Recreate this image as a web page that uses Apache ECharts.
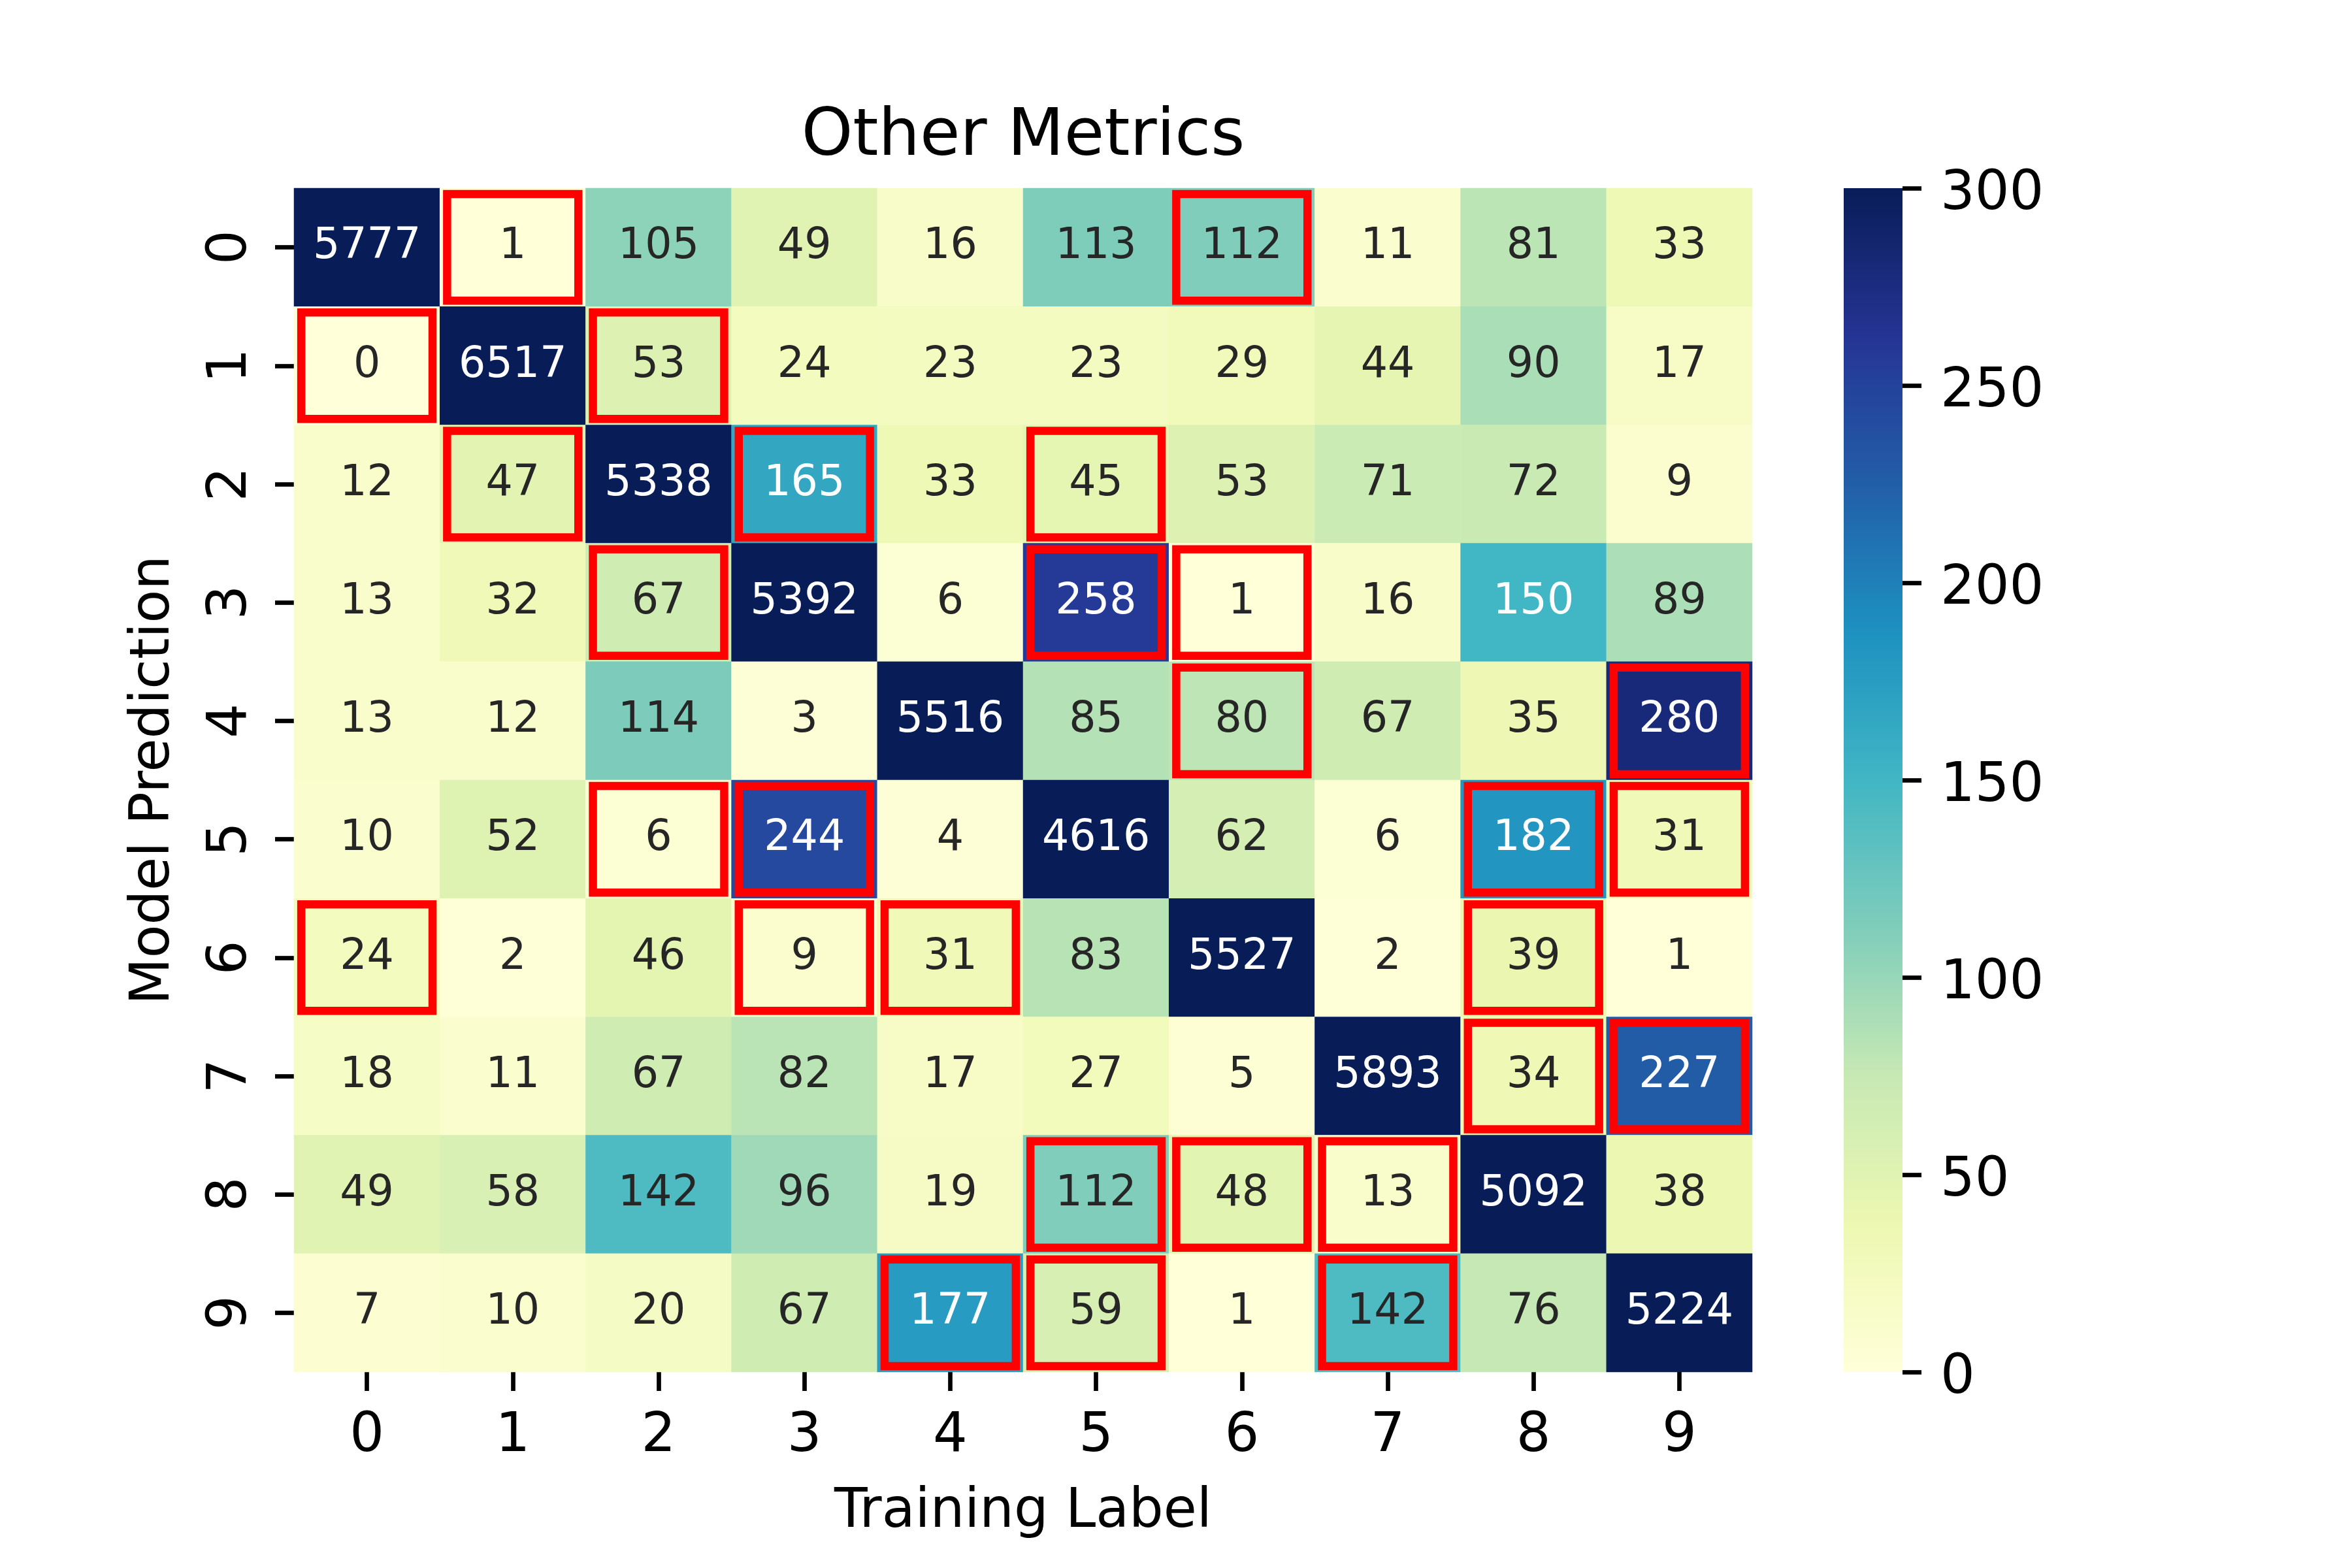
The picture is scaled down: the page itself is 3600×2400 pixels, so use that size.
<!DOCTYPE html>
<html>
<head>
<meta charset="utf-8">
<script src="https://cdn.jsdelivr.net/npm/echarts@6/dist/echarts.min.js"></script>
<style>
  html, body { margin: 0; padding: 0; background: #fff; }
  #chart { width: 3600px; height: 2400px; }
</style>
</head>
<body>
<div id="chart"></div>
<script>
// tick labels on both axes
const labels = ['0', '1', '2', '3', '4', '5', '6', '7', '8', '9'];

// one row per model prediction, columns are training labels
const pred0 = [5777, 1, 105, 49, 16, 113, 112, 11, 81, 33];
const pred1 = [0, 6517, 53, 24, 23, 23, 29, 44, 90, 17];
const pred2 = [12, 47, 5338, 165, 33, 45, 53, 71, 72, 9];
const pred3 = [13, 32, 67, 5392, 6, 258, 1, 16, 150, 89];
const pred4 = [13, 12, 114, 3, 5516, 85, 80, 67, 35, 280];
const pred5 = [10, 52, 6, 244, 4, 4616, 62, 6, 182, 31];
const pred6 = [24, 2, 46, 9, 31, 83, 5527, 2, 39, 1];
const pred7 = [18, 11, 67, 82, 17, 27, 5, 5893, 34, 227];
const pred8 = [49, 58, 142, 96, 19, 112, 48, 13, 5092, 38];
const pred9 = [7, 10, 20, 67, 177, 59, 1, 142, 76, 5224];
const rows = [pred0, pred1, pred2, pred3, pred4, pred5, pred6, pred7, pred8, pred9];

// cells outlined in red, as [row, col]
const boxed = [
  [0, 1], [0, 6],
  [1, 0], [1, 2],
  [2, 1], [2, 3], [2, 5],
  [3, 2], [3, 5], [3, 6],
  [4, 6], [4, 9],
  [5, 2], [5, 3], [5, 8], [5, 9],
  [6, 0], [6, 3], [6, 4], [6, 8],
  [7, 8], [7, 9],
  [8, 5], [8, 6], [8, 7],
  [9, 4], [9, 5], [9, 7]
];

// colour scale range and colorbar ticks
const vmin = 0, vmax = 300, cbStep = 50;

// YlGnBu
const palette = ['#ffffd9', '#edf8b1', '#c7e9b4', '#7fcdbb', '#41b6c4',
                 '#1d91c0', '#225ea8', '#253494', '#081d58'];

const FONT = 'DejaVu Sans';

function hexRgb(h) {
  return [1, 3, 5].map(i => parseInt(h.substr(i, 2), 16));
}

function cmap(v) {
  let t = (Math.min(Math.max(v, vmin), vmax) - vmin) / (vmax - vmin);
  let p = t * (palette.length - 1);
  let i = Math.min(Math.floor(p), palette.length - 2);
  let f = p - i;
  let a = hexRgb(palette[i]), b = hexRgb(palette[i + 1]);
  return a.map((c, k) => c + (b[k] - c) * f);
}

// same rule seaborn uses: dark text on light cells
function textColor(v) {
  let lin = cmap(v).map(c => {
    c = c / 255;
    return c <= 0.03928 ? c / 12.92 : Math.pow((c + 0.055) / 1.055, 2.4);
  });
  let lum = 0.2126 * lin[0] + 0.7152 * lin[1] + 0.0722 * lin[2];
  return lum > 0.408 ? '#262626' : '#ffffff';
}

const cells = [];
rows.forEach((row, i) => {
  row.forEach((v, j) => {
    cells.push({
      value: [j, i, Math.min(v, vmax), v],
      label: { color: textColor(v) }
    });
  });
});

// gradient for the colorbar, bottom (vmin) to top (vmax)
const barGradient = palette.map((c, i) => ({ offset: 1 - i / (palette.length - 1), color: c }));

const chart = echarts.init(document.getElementById('chart'), null, { renderer: 'canvas' });

function ticks() {
  return { show: true, length: 29, lineStyle: { color: '#000', width: 6.7 } };
}

chart.setOption({
  animation: false,
  backgroundColor: '#fff',
  grid: [
    { left: 450, top: 288, width: 2232, height: 1812, outerBoundsMode: 'none' },
    { left: 2822, top: 288, width: 90, height: 1812, outerBoundsMode: 'none' }
  ],
  xAxis: [
    {
      type: 'category', gridIndex: 0, data: labels, position: 'bottom',
      axisLine: { show: false },
      axisTick: Object.assign(ticks(), { alignWithLabel: true }),
      axisLabel: { fontSize: 83, fontFamily: FONT, color: '#000', margin: 58 },
      splitLine: { show: false }
    },
    { type: 'value', gridIndex: 1, show: false, min: 0, max: 1, axisLine: { onZero: false } }
  ],
  yAxis: [
    {
      type: 'category', gridIndex: 0, data: labels, inverse: true,
      axisLine: { show: false },
      axisTick: Object.assign(ticks(), { alignWithLabel: true }),
      axisLabel: { fontSize: 83, fontFamily: FONT, color: '#000', rotate: 90, margin: 54 },
      splitLine: { show: false }
    },
    {
      type: 'value', gridIndex: 1, position: 'right',
      min: vmin, max: vmax, interval: cbStep,
      axisLine: { show: false, onZero: false },
      axisTick: Object.assign(ticks(), { inside: false }),
      axisLabel: {
        margin: 58,
        formatter: v => '{t|' + v + '}',
        rich: { t: { fontSize: 83, fontFamily: FONT, color: '#000', padding: [20, 0, 0, 0] } }
      },
      splitLine: { show: false }
    }
  ],
  visualMap: {
    type: 'continuous',
    show: false,
    min: vmin, max: vmax,
    dimension: 2,
    seriesIndex: 0,
    inRange: { color: palette }
  },
  graphic: [
    {
      type: 'text', x: 1566, y: 211,
      style: { text: 'Other Metrics', fontSize: 100, fontFamily: FONT, fill: '#000', align: 'center', verticalAlign: 'middle' }
    },
    {
      type: 'text', x: 1566, y: 2315,
      style: { text: 'Training Label', fontSize: 83, fontFamily: FONT, fill: '#000', align: 'center', verticalAlign: 'middle' }
    },
    {
      type: 'text', x: 236, y: 1194, rotation: Math.PI / 2,
      style: { text: 'Model Prediction', fontSize: 83, fontFamily: FONT, fill: '#000', align: 'center', verticalAlign: 'middle' }
    }
  ],
  series: [
    {
      type: 'heatmap',
      xAxisIndex: 0, yAxisIndex: 0,
      data: cells,
      label: {
        show: true,
        fontSize: 65,
        fontFamily: FONT,
        formatter: p => String(p.value[3])
      },
      itemStyle: { borderWidth: 0 },
      emphasis: { disabled: true }
    },
    {
      type: 'custom',
      xAxisIndex: 0, yAxisIndex: 0,
      silent: true,
      z: 5,
      data: boxed.map(([r, c]) => [c, r]),
      renderItem: (params, api) => {
        const c = api.coord([api.value(0), api.value(1)]);
        const s = api.size([1, 1]);
        return {
          type: 'rect',
          shape: { x: c[0] - s[0] * 0.45, y: c[1] - s[1] * 0.45, width: s[0] * 0.9, height: s[1] * 0.9 },
          style: { fill: 'none', stroke: '#ff0000', lineWidth: 12.5 }
        };
      }
    },
    {
      // colorbar: one rect spanning vmin..vmax on the colorbar axis
      type: 'custom',
      xAxisIndex: 1, yAxisIndex: 1,
      silent: true,
      data: [[vmin, vmax]],
      renderItem: (params, api) => {
        const lo = api.coord([0, api.value(0)]);
        const hi = api.coord([1, api.value(1)]);
        return {
          type: 'rect',
          shape: { x: lo[0], y: hi[1], width: hi[0] - lo[0], height: lo[1] - hi[1] },
          style: { fill: new echarts.graphic.LinearGradient(0, 0, 0, 1, barGradient) }
        };
      }
    }
  ]
});
</script>
</body>
</html>
